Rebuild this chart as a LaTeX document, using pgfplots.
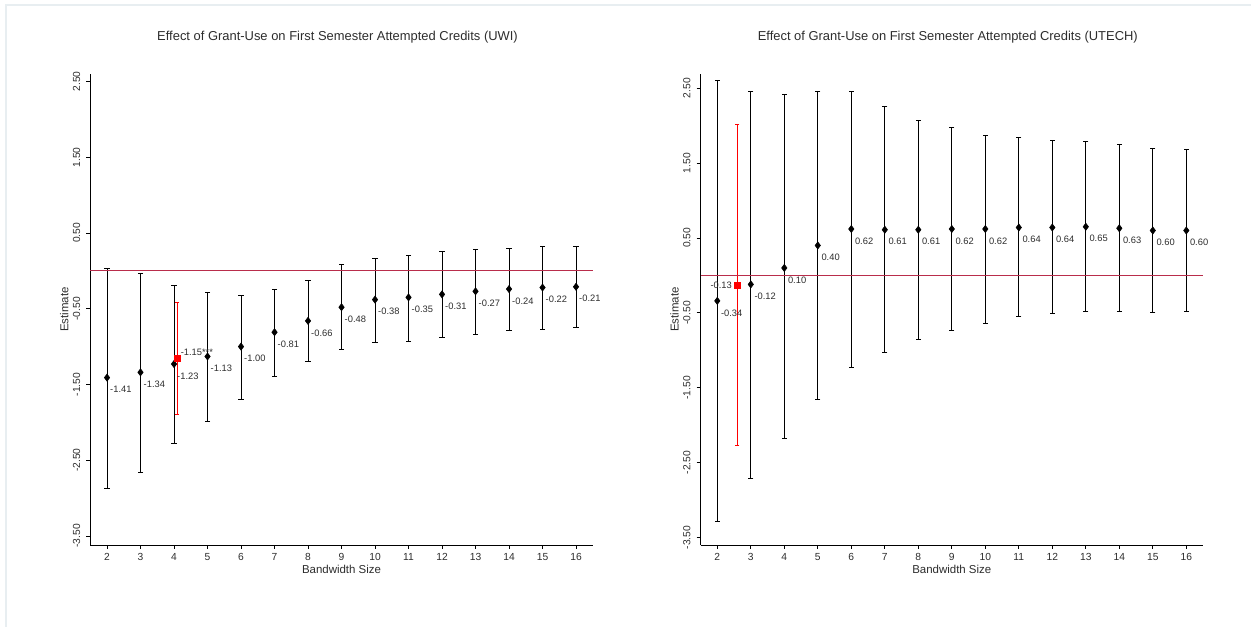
\documentclass[border=0pt]{standalone}
\usepackage{pgfplots}
\pgfplotsset{compat=1.18}
\usepackage{pgfplotstable}
\usepackage{fontspec}
\setmainfont{Liberation Sans}
\definecolor{refline}{RGB}{185,45,75}
\definecolor{framec}{RGB}{232,238,241}
\definecolor{txt}{RGB}{45,45,45}

% x, estimate, lower and upper confidence bounds, label
\pgfplotstableread{
x y lo hi lab
2 -1.41 -2.88 0.03 -1.41
3 -1.34 -2.66 -0.04 -1.34
4 -1.23 -2.28 -0.19 -1.23
5 -1.13 -1.99 -0.28 -1.13
6 -1.00 -1.70 -0.32 -1.00
7 -0.81 -1.40 -0.24 -0.81
8 -0.66 -1.20 -0.13 -0.66
9 -0.48 -1.04 0.08 -0.48
10 -0.38 -0.95 0.17 -0.38
11 -0.35 -0.93 0.21 -0.35
12 -0.31 -0.88 0.25 -0.31
13 -0.27 -0.84 0.28 -0.27
14 -0.24 -0.79 0.30 -0.24
15 -0.22 -0.77 0.32 -0.22
16 -0.21 -0.75 0.32 -0.21
}\uwi

\pgfplotstableread{
x y lo hi lab
4.09 -1.15 -1.90 -0.42 -1.15***
}\uwired

\pgfplotstableread{
x y lo hi lab
2 -0.34 -3.28 2.60 -0.34
3 -0.12 -2.71 2.46 -0.12
4 0.10 -2.18 2.41 0.10
5 0.40 -1.66 2.45 0.40
6 0.62 -1.23 2.46 0.62
7 0.61 -1.035 2.25 0.61
8 0.61 -0.86 2.07 0.61
9 0.62 -0.74 1.98 0.62
10 0.62 -0.635 1.87 0.62
11 0.64 -0.55 1.84 0.64
12 0.64 -0.51 1.80 0.64
13 0.65 -0.485 1.79 0.65
14 0.63 -0.485 1.75 0.63
15 0.60 -0.49 1.70 0.60
16 0.60 -0.485 1.68 0.60
}\utech

\pgfplotstableread{
x y lo hi lab
2.6 -0.13 -2.27 2.02 -0.13
}\utechred

\pgfplotsset{
  panel/.style={
    scale only axis,
    width=376.875pt, height=353.25pt,
    anchor=south west,
    axis lines*=left,
    axis line style={black, line width=0.7pt},
    xmin=1.5, xmax=16.5,
    xtick={2,...,16},
    ytick={-3.5,-2.5,-1.5,-0.5,0.5,1.5,2.5},
    yticklabels={-3.50,-2.50,-1.50,-0.50,0.50,1.50,2.50},
    /pgf/number format/assume math mode=true,
    tick align=outside,
    major tick length=3pt,
    tick style={black, line width=0.6pt},
    ticklabel style={font=\fontsize{7.7}{9}\selectfont, text=txt},
    yticklabel style={rotate=90, anchor=south, yshift=1pt},
    xlabel={Bandwidth Size},
    ylabel={Estimate},
    label style={font=\fontsize{8.6}{10}\selectfont, text=txt},
    xlabel style={at={(axis description cs:0.5,-0.051)}, anchor=center},
    ylabel style={at={(axis description cs:-0.0517,0.5)}, anchor=center},
    every axis title/.style={at={(axis description cs:0.5,1.0786)}, anchor=center, xshift=-3pt,
      font=\fontsize{9.7}{11}\selectfont, text=txt},
    clip=false,
  },
  bar/.style={black, line width=0.7pt, mark=none},
  cap/.style={only marks, black, mark=-, mark size=2pt, mark options={line width=0.7pt}},
  pt/.style={only marks, black, mark=diamond*, mark size=2.7pt},
  lbl/.style n args={3}{only marks, mark=none, nodes near coords, point meta=explicit symbolic,
    nodes near coords style={anchor=#1, xshift=#2, yshift=#3, inner sep=0pt,
      font=\fontsize{7}{8}\selectfont, text=txt}},
  zeroline/.style={draw=refline, line width=0.8pt, mark=none},
}

% draws interval lines (one segment per row) from lo to hi
\newcommand{\intervals}[2]{%
  \pgfplotstablegetrowsof{#1}%
  \pgfmathtruncatemacro{\nrows}{\pgfplotsretval-1}%
  \pgfplotsforeachungrouped \i in {0,...,\nrows}{%
    \pgfplotstablegetelem{\i}{x}\of{#1}\let\xx\pgfplotsretval
    \pgfplotstablegetelem{\i}{lo}\of{#1}\let\ylo\pgfplotsretval
    \pgfplotstablegetelem{\i}{hi}\of{#1}\let\yhi\pgfplotsretval
    \edef\tmp{\noexpand\addplot[#2] coordinates {(\xx,\ylo) (\xx,\yhi)};}\tmp
  }%
}

\begin{document}
\begin{tikzpicture}
\useasboundingbox (0,0) rectangle (938.25pt,470.25pt);
\draw[framec, line width=1.5pt] (4.5pt,0) -- (4.5pt,466.5pt) -- (938.25pt,466.5pt);

\begin{axis}[panel, at={(67.7pt,61.5pt)}, ymin=-3.62, ymax=2.6,
  title={Effect of Grant-Use on First Semester Attempted Credits (UWI)}]
\intervals{\uwi}{bar}
\addplot[cap] table[x=x, y=lo] \uwi;
\addplot[cap] table[x=x, y=hi] \uwi;
\addplot[pt] table[x=x, y=y] \uwi;
\intervals{\uwired}{bar, red, line width=0.5pt}
\addplot[cap, red, mark size=1.5pt, mark options={line width=0.5pt}] table[x=x, y=lo] \uwired;
\addplot[cap, red, mark size=1.5pt, mark options={line width=0.5pt}] table[x=x, y=hi] \uwired;
\addplot[only marks, red, mark=square*, mark size=2.25pt] table[x=x, y=y] \uwired;
\addplot[lbl={west}{2.2pt}{-9pt}] table[x=x, y=y, meta=lab] \uwi;
\addplot[lbl={west}{2.6pt}{4.5pt}] table[x=x, y=y, meta=lab] \uwired;
\addplot[zeroline] coordinates {(1.5,0) (16.5,0)};
\end{axis}

\begin{axis}[panel, at={(525.4pt,61.5pt)}, ymin=-3.6, ymax=2.69,
  title={Effect of Grant-Use on First Semester Attempted Credits (UTECH)}]
\intervals{\utech}{bar}
\addplot[cap] table[x=x, y=lo] \utech;
\addplot[cap] table[x=x, y=hi] \utech;
\addplot[pt] table[x=x, y=y] \utech;
\intervals{\utechred}{bar, red, line width=0.5pt}
\addplot[cap, red, mark size=1.5pt, mark options={line width=0.5pt}] table[x=x, y=lo] \utechred;
\addplot[cap, red, mark size=1.5pt, mark options={line width=0.5pt}] table[x=x, y=hi] \utechred;
\addplot[only marks, red, mark=square*, mark size=2.25pt] table[x=x, y=y] \utechred;
\addplot[lbl={west}{2.6pt}{-9pt}] table[x=x, y=y, meta=lab] \utech;
\addplot[lbl={east}{-4pt}{0pt}] table[x=x, y=y, meta=lab] \utechred;
\addplot[zeroline] coordinates {(1.5,0) (16.5,0)};
\end{axis}
\end{tikzpicture}
\end{document}
